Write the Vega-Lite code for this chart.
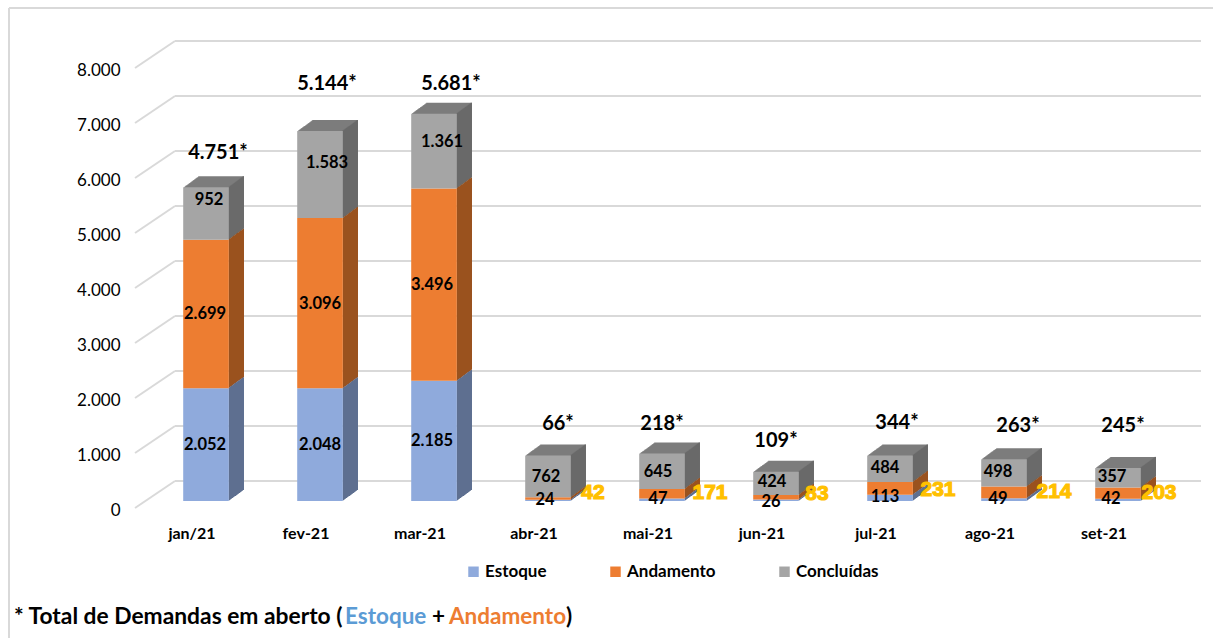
{"$schema":"https://vega.github.io/schema/vega-lite/v6.json","width":1026,"height":440,"autosize":"none","padding":{"left":135,"top":68,"right":52,"bottom":130},"background":"white","config":{"view":{"stroke":null},"text":{"font":"Lato","fontWeight":"bold","fontSize":16.5,"align":"center","baseline":"middle","color":"#000000"},"axisY":{"domain":false,"ticks":false,"grid":false,"tickCount":8,"labelFont":"Lato","labelFontSize":17,"labelColor":"#000000","labelPadding":15,"labelOffset":2.5,"labelExpr":"replace(format(datum.value,',d'),',','.')"}},
"datasets":{"demandas":[
{"mes":"jan/21","serie":"Estoque","ordem":1,"valor":2052,"rotulo":"2.052"},{"mes":"jan/21","serie":"Andamento","ordem":2,"valor":2699,"rotulo":"2.699"},{"mes":"jan/21","serie":"Concluídas","ordem":3,"valor":952,"rotulo":"952"},
{"mes":"fev-21","serie":"Estoque","ordem":1,"valor":2048,"rotulo":"2.048"},{"mes":"fev-21","serie":"Andamento","ordem":2,"valor":3096,"rotulo":"3.096"},{"mes":"fev-21","serie":"Concluídas","ordem":3,"valor":1583,"rotulo":"1.583"},
{"mes":"mar-21","serie":"Estoque","ordem":1,"valor":2185,"rotulo":"2.185"},{"mes":"mar-21","serie":"Andamento","ordem":2,"valor":3496,"rotulo":"3.496"},{"mes":"mar-21","serie":"Concluídas","ordem":3,"valor":1361,"rotulo":"1.361"},
{"mes":"abr-21","serie":"Estoque","ordem":1,"valor":24,"rotulo":"24"},{"mes":"abr-21","serie":"Andamento","ordem":2,"valor":42,"rotulo":"42"},{"mes":"abr-21","serie":"Concluídas","ordem":3,"valor":762,"rotulo":"762"},
{"mes":"mai-21","serie":"Estoque","ordem":1,"valor":47,"rotulo":"47"},{"mes":"mai-21","serie":"Andamento","ordem":2,"valor":171,"rotulo":"171"},{"mes":"mai-21","serie":"Concluídas","ordem":3,"valor":645,"rotulo":"645"},
{"mes":"jun-21","serie":"Estoque","ordem":1,"valor":26,"rotulo":"26"},{"mes":"jun-21","serie":"Andamento","ordem":2,"valor":83,"rotulo":"83"},{"mes":"jun-21","serie":"Concluídas","ordem":3,"valor":424,"rotulo":"424"},
{"mes":"jul-21","serie":"Estoque","ordem":1,"valor":113,"rotulo":"113"},{"mes":"jul-21","serie":"Andamento","ordem":2,"valor":231,"rotulo":"231"},{"mes":"jul-21","serie":"Concluídas","ordem":3,"valor":484,"rotulo":"484"},
{"mes":"ago-21","serie":"Estoque","ordem":1,"valor":49,"rotulo":"49"},{"mes":"ago-21","serie":"Andamento","ordem":2,"valor":214,"rotulo":"214"},{"mes":"ago-21","serie":"Concluídas","ordem":3,"valor":498,"rotulo":"498"},
{"mes":"set-21","serie":"Estoque","ordem":1,"valor":42,"rotulo":"42"},{"mes":"set-21","serie":"Andamento","ordem":2,"valor":203,"rotulo":"203"},{"mes":"set-21","serie":"Concluídas","ordem":3,"valor":357,"rotulo":"357"}],
"totais":[{"mes":"jan/21","total":4751,"rotulo":"4.751*"},{"mes":"fev-21","total":5144,"rotulo":"5.144*"},{"mes":"mar-21","total":5681,"rotulo":"5.681*"},{"mes":"abr-21","total":66,"rotulo":"66*"},{"mes":"mai-21","total":218,"rotulo":"218*"},{"mes":"jun-21","total":109,"rotulo":"109*"},{"mes":"jul-21","total":344,"rotulo":"344*"},{"mes":"ago-21","total":263,"rotulo":"263*"},{"mes":"set-21","total":245,"rotulo":"245*"}],
"grade":[{"v":0},{"v":1000},{"v":2000},{"v":3000},{"v":4000},{"v":5000},{"v":6000},{"v":7000},{"v":8000}]},
"encoding":{"x":{"field":"mes","type":"nominal","sort":null,"title":null,"scale":{"paddingInner":0.6,"paddingOuter":0.3},"axis":{"domain":false,"ticks":false,"labelAngle":0,"labelFont":"Lato","labelFontWeight":"bold","labelFontSize":16,"labelColor":"#000000","labelPadding":17,"grid":false}},
"y":{"field":"topo","type":"quantitative","title":null,"scale":{"domain":[0,8000],"nice":false}}},
"layer":[
{"data":{"values":[{"moldura":"esquerda"}]},"mark":{"type":"rule","color":"#d9d9d9","strokeWidth":2},"encoding":{"x":{"value":-126},"y":{"value":-60},"y2":{"value":570}}},
{"data":{"values":[{"moldura":"topo"}]},"mark":{"type":"rule","color":"#d9d9d9","strokeWidth":2},"encoding":{"x":{"value":-126},"x2":{"value":1078},"y":{"value":-60}}},
{"data":{"name":"grade"},"mark":{"type":"rule","color":"#d9d9d9","strokeWidth":2,"yOffset":-27},"encoding":{"x":{"value":40},"x2":{"value":1066},"y":{"field":"v","type":"quantitative","title":null}}},
{"data":{"name":"grade"},"mark":{"type":"rule","color":"#d9d9d9","strokeWidth":2,"y2Offset":-27},"encoding":{"x":{"value":0},"x2":{"value":40},"y":{"field":"v","type":"quantitative","title":null},"y2":{"field":"v"}}},
{"data":{"name":"demandas"},"transform":[{"stack":"valor","groupby":["mes"],"sort":[{"field":"ordem","order":"ascending"}],"as":["base","topo"]},{"calculate":"(datum.base+datum.topo)/2","as":"meio"}],
"layer":[
{"transform":[{"filter":"datum.ordem==3"}],"encoding":{"y2":{"field":"base"}},"layer":[
{"mark":{"type":"bar","color":"#7C7C7C","xOffset":15,"yOffset":-7.7,"y2Offset":-7.7}},{"mark":{"type":"bar","color":"#7C7C7C","xOffset":16,"yOffset":-8.5,"y2Offset":-8.5}},{"mark":{"type":"bar","color":"#7C7C7C","xOffset":17,"yOffset":-9.2,"y2Offset":-9.2}},{"mark":{"type":"bar","color":"#7C7C7C","xOffset":18,"yOffset":-9.9,"y2Offset":-9.9}},{"mark":{"type":"bar","color":"#7C7C7C","xOffset":19,"yOffset":-10.7,"y2Offset":-10.7}},{"mark":{"type":"bar","color":"#7C7C7C","xOffset":20,"yOffset":-11.4,"y2Offset":-11.4}},{"mark":{"type":"bar","color":"#7C7C7C","xOffset":21,"yOffset":-12.1,"y2Offset":-12.1}},{"mark":{"type":"bar","color":"#7C7C7C","xOffset":22,"yOffset":-12.8,"y2Offset":-12.8}},{"mark":{"type":"bar","color":"#7C7C7C","xOffset":23,"yOffset":-13.6,"y2Offset":-13.6}},{"mark":{"type":"bar","color":"#7C7C7C","xOffset":24,"yOffset":-14.3,"y2Offset":-14.3}},{"mark":{"type":"bar","color":"#7C7C7C","xOffset":25,"yOffset":-15,"y2Offset":-15}},{"mark":{"type":"bar","color":"#7C7C7C","xOffset":26,"yOffset":-15.8,"y2Offset":-15.8}},{"mark":{"type":"bar","color":"#7C7C7C","xOffset":27,"yOffset":-16.5,"y2Offset":-16.5}},{"mark":{"type":"bar","color":"#7C7C7C","xOffset":28,"yOffset":-17.2,"y2Offset":-17.2}},{"mark":{"type":"bar","color":"#7C7C7C","xOffset":29,"yOffset":-18,"y2Offset":-18}}]},
{"encoding":{"x":{"field":"mes","type":"nominal","sort":null,"bandPosition":1},"y2":{"field":"base"},"color":{"condition":[{"test":"datum.ordem==1","value":"#5E7091"},{"test":"datum.ordem==2","value":"#9A521F"}],"value":"#6A6A6A"}},"layer":[
{"mark":{"type":"rule","strokeWidth":1.4,"xOffset":14.5,"yOffset":-7.7,"y2Offset":-7.7}},{"mark":{"type":"rule","strokeWidth":1.4,"xOffset":15.5,"yOffset":-8.5,"y2Offset":-8.5}},{"mark":{"type":"rule","strokeWidth":1.4,"xOffset":16.5,"yOffset":-9.2,"y2Offset":-9.2}},{"mark":{"type":"rule","strokeWidth":1.4,"xOffset":17.5,"yOffset":-9.9,"y2Offset":-9.9}},{"mark":{"type":"rule","strokeWidth":1.4,"xOffset":18.5,"yOffset":-10.7,"y2Offset":-10.7}},{"mark":{"type":"rule","strokeWidth":1.4,"xOffset":19.5,"yOffset":-11.4,"y2Offset":-11.4}},{"mark":{"type":"rule","strokeWidth":1.4,"xOffset":20.5,"yOffset":-12.1,"y2Offset":-12.1}},{"mark":{"type":"rule","strokeWidth":1.4,"xOffset":21.5,"yOffset":-12.8,"y2Offset":-12.8}},{"mark":{"type":"rule","strokeWidth":1.4,"xOffset":22.5,"yOffset":-13.6,"y2Offset":-13.6}},{"mark":{"type":"rule","strokeWidth":1.4,"xOffset":23.5,"yOffset":-14.3,"y2Offset":-14.3}},{"mark":{"type":"rule","strokeWidth":1.4,"xOffset":24.5,"yOffset":-15,"y2Offset":-15}},{"mark":{"type":"rule","strokeWidth":1.4,"xOffset":25.5,"yOffset":-15.8,"y2Offset":-15.8}},{"mark":{"type":"rule","strokeWidth":1.4,"xOffset":26.5,"yOffset":-16.5,"y2Offset":-16.5}},{"mark":{"type":"rule","strokeWidth":1.4,"xOffset":27.5,"yOffset":-17.2,"y2Offset":-17.2}},{"mark":{"type":"rule","strokeWidth":1.4,"xOffset":28.5,"yOffset":-18,"y2Offset":-18}}]},
{"mark":{"type":"bar","xOffset":14,"yOffset":-7,"y2Offset":-7},"encoding":{"y2":{"field":"base"},"color":{"field":"serie","type":"nominal","scale":{"domain":["Estoque","Andamento","Concluídas"],"range":["#8FAADC","#ED7D31","#A5A5A5"]},"legend":{"title":null,"orient":"none","direction":"horizontal","legendX":330,"legendY":495,"symbolType":"square","symbolSize":110,"symbolStrokeWidth":0,"labelFont":"Lato","labelFontWeight":"bold","labelFontSize":17,"labelColor":"#000000","columnPadding":60,"labelOffset":3}}}},
{"encoding":{"y":{"field":"meio","type":"quantitative","title":null},"text":{"field":"rotulo"}},"layer":[
{"transform":[{"filter":"datum.mes=='jan/21'&&datum.ordem==1"}],"mark":{"type":"text","dx":13,"dy":-7}},
{"transform":[{"filter":"datum.mes=='fev-21'&&datum.ordem==1"}],"mark":{"type":"text","dx":14,"dy":-7}},
{"transform":[{"filter":"datum.mes=='mar-21'&&datum.ordem==1"}],"mark":{"type":"text","dx":12,"dy":-7}},
{"transform":[{"filter":"datum.mes=='abr-21'&&datum.ordem==1"}],"mark":{"type":"text","dx":11,"dy":-7}},
{"transform":[{"filter":"datum.mes=='mai-21'&&datum.ordem==1"}],"mark":{"type":"text","dx":10,"dy":-8}},
{"transform":[{"filter":"datum.mes=='jun-21'&&datum.ordem==1"}],"mark":{"type":"text","dx":9,"dy":-5}},
{"transform":[{"filter":"datum.mes=='jul-21'&&datum.ordem==1"}],"mark":{"type":"text","dx":9,"dy":-8}},
{"transform":[{"filter":"datum.mes=='ago-21'&&datum.ordem==1"}],"mark":{"type":"text","dx":8,"dy":-8}},
{"transform":[{"filter":"datum.mes=='set-21'&&datum.ordem==1"}],"mark":{"type":"text","dx":7,"dy":-8}},
{"transform":[{"filter":"datum.mes=='jan/21'&&datum.ordem==2"}],"mark":{"type":"text","dx":13,"dy":-7}},
{"transform":[{"filter":"datum.mes=='fev-21'&&datum.ordem==2"}],"mark":{"type":"text","dx":14,"dy":-6}},
{"transform":[{"filter":"datum.mes=='mar-21'&&datum.ordem==2"}],"mark":{"type":"text","dx":12,"dy":-7}},
{"transform":[{"filter":"datum.mes=='abr-21'&&datum.ordem==2"}],"mark":{"type":"text","dx":59,"dy":-13,"color":"#FFC000","stroke":"#FFC000","strokeWidth":1.2,"fontSize":21,"font":"Liberation Sans"}},
{"transform":[{"filter":"datum.mes=='mai-21'&&datum.ordem==2"}],"mark":{"type":"text","dx":62,"dy":-8,"color":"#FFC000","stroke":"#FFC000","strokeWidth":1.2,"fontSize":21,"font":"Liberation Sans"}},
{"transform":[{"filter":"datum.mes=='jun-21'&&datum.ordem==2"}],"mark":{"type":"text","dx":55,"dy":-10,"color":"#FFC000","stroke":"#FFC000","strokeWidth":1.2,"fontSize":21,"font":"Liberation Sans"}},
{"transform":[{"filter":"datum.mes=='jul-21'&&datum.ordem==2"}],"mark":{"type":"text","dx":62,"dy":-5,"color":"#FFC000","stroke":"#FFC000","strokeWidth":1.2,"fontSize":21,"font":"Liberation Sans"}},
{"transform":[{"filter":"datum.mes=='ago-21'&&datum.ordem==2"}],"mark":{"type":"text","dx":64,"dy":-7,"color":"#FFC000","stroke":"#FFC000","strokeWidth":1.2,"fontSize":21,"font":"Liberation Sans"}},
{"transform":[{"filter":"datum.mes=='set-21'&&datum.ordem==2"}],"mark":{"type":"text","dx":55,"dy":-7,"color":"#FFC000","stroke":"#FFC000","strokeWidth":1.2,"fontSize":21,"font":"Liberation Sans"}},
{"transform":[{"filter":"datum.mes=='jan/21'&&datum.ordem==3"}],"mark":{"type":"text","dx":17,"dy":-21}},
{"transform":[{"filter":"datum.mes=='fev-21'&&datum.ordem==3"}],"mark":{"type":"text","dx":21,"dy":-19}},
{"transform":[{"filter":"datum.mes=='mar-21'&&datum.ordem==3"}],"mark":{"type":"text","dx":22,"dy":-16}},
{"transform":[{"filter":"datum.mes=='abr-21'&&datum.ordem==3"}],"mark":{"type":"text","dx":12,"dy":-6}},
{"transform":[{"filter":"datum.mes=='mai-21'&&datum.ordem==3"}],"mark":{"type":"text","dx":10,"dy":-6}},
{"transform":[{"filter":"datum.mes=='jun-21'&&datum.ordem==3"}],"mark":{"type":"text","dx":10,"dy":-8}},
{"transform":[{"filter":"datum.mes=='jul-21'&&datum.ordem==3"}],"mark":{"type":"text","dx":9,"dy":-8}},
{"transform":[{"filter":"datum.mes=='ago-21'&&datum.ordem==3"}],"mark":{"type":"text","dx":8,"dy":-8}},
{"transform":[{"filter":"datum.mes=='set-21'&&datum.ordem==3"}],"mark":{"type":"text","dx":8,"dy":-8}}]}]},
{"data":{"name":"totais"},"encoding":{"y":{"field":"total","type":"quantitative","title":null},"text":{"field":"rotulo"}},"layer":[
{"transform":[{"filter":"datum.mes=='jan/21'"}],"mark":{"type":"text","fontSize":20,"dx":26,"dy":-94}},
{"transform":[{"filter":"datum.mes=='fev-21'"}],"mark":{"type":"text","fontSize":20,"dx":21,"dy":-141}},
{"transform":[{"filter":"datum.mes=='mar-21'"}],"mark":{"type":"text","fontSize":20,"dx":31,"dy":-112}},
{"transform":[{"filter":"datum.mes=='abr-21'"}],"mark":{"type":"text","fontSize":20,"dx":24,"dy":-80}},
{"transform":[{"filter":"datum.mes=='mai-21'"}],"mark":{"type":"text","fontSize":20,"dx":14,"dy":-72}},
{"transform":[{"filter":"datum.mes=='jun-21'"}],"mark":{"type":"text","fontSize":20,"dx":14,"dy":-61}},
{"transform":[{"filter":"datum.mes=='jul-21'"}],"mark":{"type":"text","fontSize":20,"dx":21,"dy":-66}},
{"transform":[{"filter":"datum.mes=='ago-21'"}],"mark":{"type":"text","fontSize":20,"dx":28,"dy":-68}},
{"transform":[{"filter":"datum.mes=='set-21'"}],"mark":{"type":"text","fontSize":20,"dx":19,"dy":-69}}]},
{"data":{"values":[{"t":"* Total de Demandas em aberto ("}]},"mark":{"type":"text","align":"left","fontSize":22.8},"encoding":{"x":{"value":-121},"y":{"value":549},"text":{"field":"t"}}},
{"data":{"values":[{"t":"Estoque"}]},"mark":{"type":"text","align":"left","fontSize":22.5,"color":"#5B9BD5"},"encoding":{"x":{"value":210},"y":{"value":549},"text":{"field":"t"}}},
{"data":{"values":[{"t":"+"}]},"mark":{"type":"text","align":"left","fontSize":22.5},"encoding":{"x":{"value":297},"y":{"value":549},"text":{"field":"t"}}},
{"data":{"values":[{"t":"Andamento"}]},"mark":{"type":"text","align":"left","fontSize":22.5,"color":"#ED7D31"},"encoding":{"x":{"value":314},"y":{"value":549},"text":{"field":"t"}}},
{"data":{"values":[{"t":")"}]},"mark":{"type":"text","align":"left","fontSize":22.5},"encoding":{"x":{"value":431},"y":{"value":549},"text":{"field":"t"}}}
]}
